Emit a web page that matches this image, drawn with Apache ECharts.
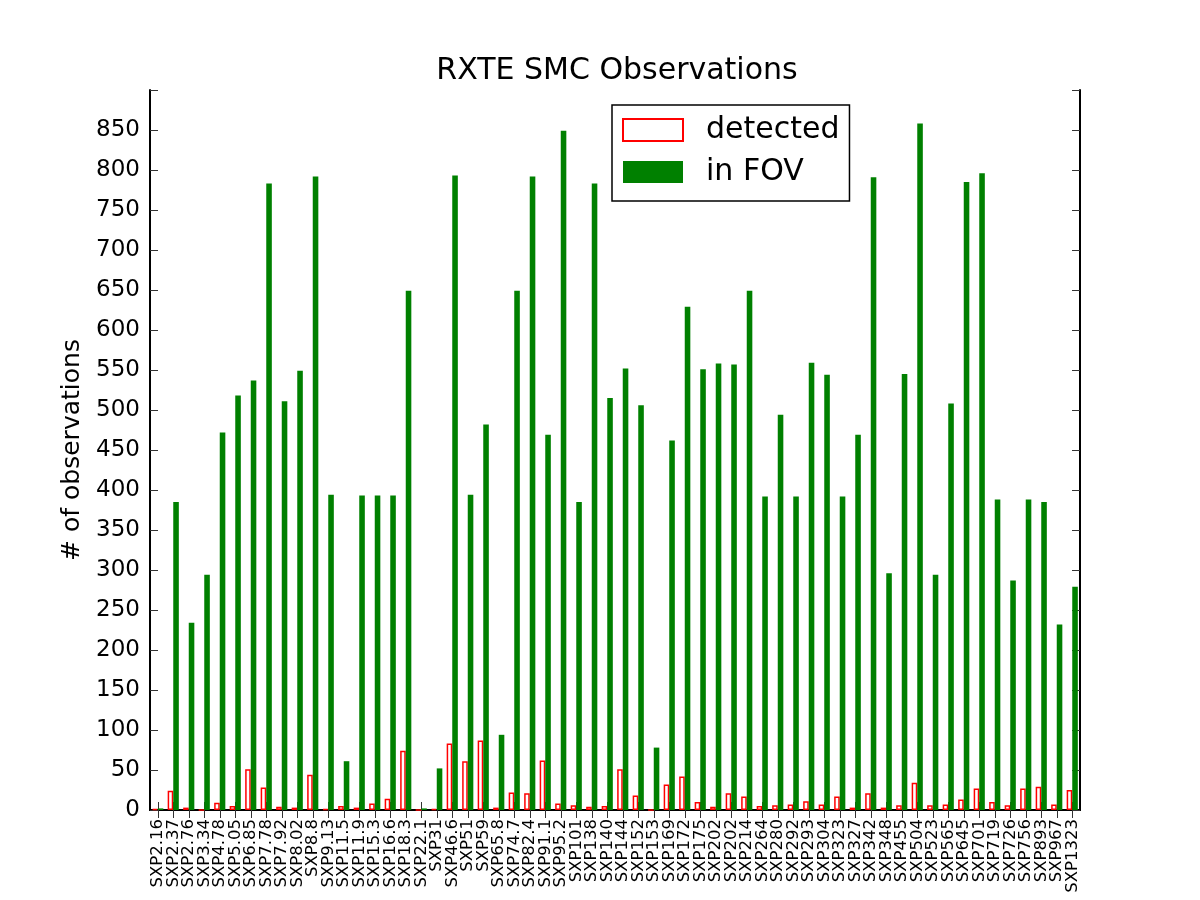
<!DOCTYPE html>
<html lang="en">
  <head>
    <meta charset="UTF-8" />
    <title>RXTE SMC Observations</title>
    <style>
      html,
      body {
        width: 100%;
        height: 100%;
        margin: 0;
        overflow: hidden;
        background: #fff;
      }
      #main {
        width: 1200px;
        height: 900px;
      }
    </style>
  </head>
  <body>
    <div id="main"></div>
    <script src="https://cdn.jsdelivr.net/npm/echarts@6/dist/echarts.min.js"></script>
    <script>
      // pulsar names on the x axis
      const sources = [
        "SXP2.16", "SXP2.37", "SXP2.76", "SXP3.34", "SXP4.78", "SXP5.05", "SXP6.85", "SXP7.78", "SXP7.92", "SXP8.02",
        "SXP8.8", "SXP9.13", "SXP11.5", "SXP11.9", "SXP15.3", "SXP16.6", "SXP18.3", "SXP22.1", "SXP31", "SXP46.6",
        "SXP51", "SXP59", "SXP65.8", "SXP74.7", "SXP82.4", "SXP91.1", "SXP95.2", "SXP101", "SXP138", "SXP140",
        "SXP144", "SXP152", "SXP153", "SXP169", "SXP172", "SXP175", "SXP202", "SXP202", "SXP214", "SXP264",
        "SXP280", "SXP292", "SXP293", "SXP304", "SXP323", "SXP327", "SXP342", "SXP348", "SXP455", "SXP504",
        "SXP523", "SXP565", "SXP645", "SXP701", "SXP719", "SXP726", "SXP756", "SXP893", "SXP967", "SXP1323"
      ];
      // observations where the pulsar was detected
      const detected = [
        1, 24, 3, 0, 9, 5, 51, 28, 4, 3,
        44, 1, 5, 3, 8, 14, 74, 0, 1, 83,
        61, 87, 3, 22, 21, 62, 8, 6, 4, 5,
        51, 18, 0, 32, 42, 10, 4, 21, 17, 5,
        6, 7, 11, 7, 17, 3, 21, 3, 6, 34,
        6, 7, 13, 27, 10, 6, 27, 29, 7, 25
      ];
      // observations with the source in the field of view
      const inFov = [
        2, 385, 234, 294, 472, 518, 537, 783, 511, 549,
        792, 394, 61, 393, 393, 393, 649, 2, 52, 793,
        394, 482, 94, 649, 792, 469, 849, 385, 783, 515,
        552, 506, 78, 462, 629, 551, 558, 557, 649, 392,
        494, 392, 559, 544, 392, 469, 791, 296, 545, 858,
        294, 508, 785, 796, 388, 287, 388, 385, 232, 279
      ];

      const font = "DejaVu Sans";
      const tick = { show: true, inside: true, length: 8, lineStyle: { color: "#333", width: 1 } };
      const frame = { show: true, lineStyle: { color: "#000", width: 2 } };

      const chart = echarts.init(document.getElementById("main"));
      chart.setOption({
        animation: false,
        backgroundColor: "#fff",
        title: {
          text: "RXTE SMC Observations",
          left: 612,
          textAlign: "center",
          top: 51,
          textStyle: { fontFamily: font, fontSize: 30, fontWeight: "normal", color: "#000" },
        },
        legend: {
          orient: "vertical",
          left: 612,
          top: 105,
          padding: [10, 10, 14, 10],
          itemGap: 12,
          itemWidth: 60,
          itemHeight: 22,
          borderColor: "#000",
          borderWidth: 1.5,
          backgroundColor: "#fff",
          textStyle: { fontFamily: font, fontSize: 30, color: "#000", padding: [0, 0, 0, 18] },
          data: [
            { name: "detected", icon: "rect", itemStyle: { color: "#fff", borderColor: "#ff0000", borderWidth: 2 } },
            { name: "in FOV", icon: "rect", itemStyle: { color: "#008000", borderWidth: 0 } },
          ],
        },
        grid: { left: 150, right: 120, top: 90, bottom: 90, outerBoundsMode: "none" },
        xAxis: [
          {
            type: "category",
            data: sources,
            axisLine: frame,
            axisTick: Object.assign({ alignWithLabel: true, interval: 0 }, tick),
            axisLabel: {
              interval: 0,
              rotate: 90,
              margin: 9,
              fontFamily: font,
              fontSize: 16.5,
              color: "#000",
            },
          },
          {
            type: "category",
            position: "top",
            data: sources,
            axisLine: frame,
            axisTick: Object.assign({ alignWithLabel: true, interval: 0 }, tick),
            axisLabel: { show: false },
          },
        ],
        yAxis: [
          {
            type: "value",
            min: 0,
            max: 900,
            interval: 50,
            name: "# of observations",
            nameLocation: "middle",
            nameGap: 64,
            nameTextStyle: { fontFamily: font, fontSize: 25, color: "#000" },
            axisLine: frame,
            axisTick: tick,
            splitLine: { show: false },
            axisLabel: {
              fontFamily: font,
              fontSize: 23,
              color: "#000",
              margin: 10,
              formatter: (v) => (v >= 900 ? "" : String(v)),
            },
          },
          {
            type: "value",
            position: "right",
            min: 0,
            max: 900,
            interval: 50,
            axisLine: frame,
            axisTick: tick,
            splitLine: { show: false },
            axisLabel: { show: false },
          },
        ],
        series: [
          {
            name: "detected",
            type: "bar",
            data: detected,
            barWidth: "36%",
            barGap: "0%",
            itemStyle: { color: "#fff", borderColor: "#ff0000", borderWidth: 1.5 },
          },
          {
            name: "in FOV",
            type: "bar",
            data: inFov,
            barWidth: "36%",
            barGap: "0%",
            itemStyle: { color: "#008000" },
          },
        ],
      });
    </script>
  </body>
</html>
